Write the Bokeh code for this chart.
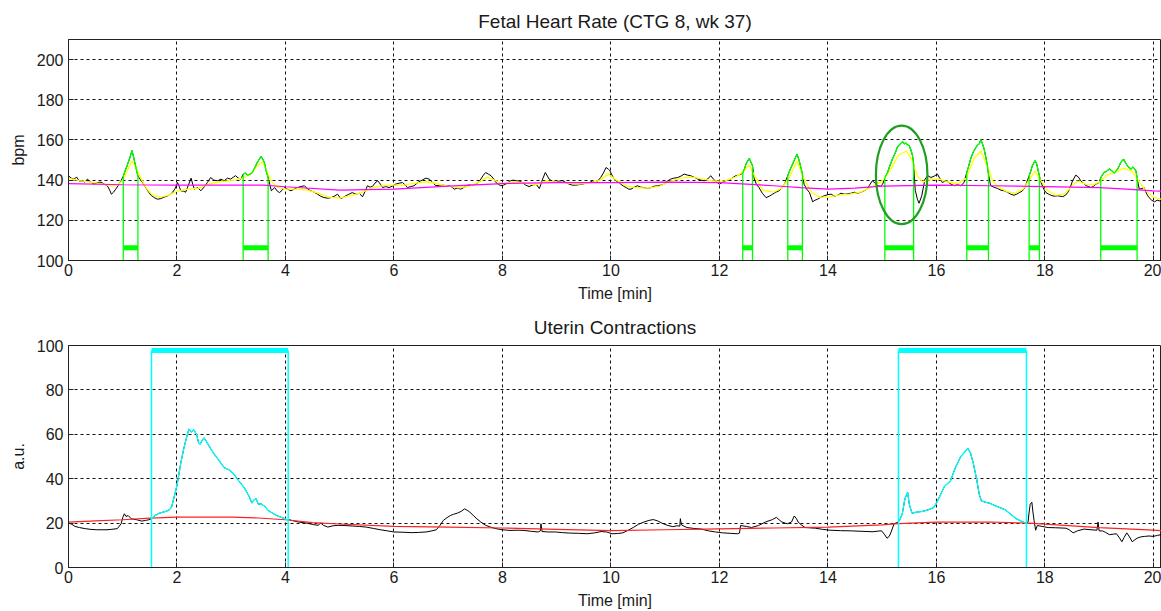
import numpy as np
from bokeh.plotting import figure
from bokeh.layouts import column
from bokeh.models import FixedTicker, Range1d
from bokeh.embed import file_html
from bokeh.resources import INLINE

# ---------------- data: fetal heart rate ----------------
fhr_time = [0.00, 0.05, 0.10, 0.15, 0.20, 0.25, 0.30, 0.35, 0.40, 0.47, 0.53, 0.60, 0.66, 0.72, 0.76, 0.79, 0.83, 0.87, 0.92, 0.97,
            1.01, 1.05, 1.09, 1.13, 1.17, 1.20, 1.22, 1.25, 1.28, 1.30, 1.33, 1.36, 1.41, 1.46, 1.52, 1.58, 1.64, 1.70, 1.76, 1.83,
            1.88, 1.92, 1.97, 2.01, 2.04, 2.07, 2.12, 2.16, 2.21, 2.26, 2.29, 2.32, 2.38, 2.44, 2.50, 2.56, 2.62, 2.68, 2.75, 2.81,
            2.87, 2.93, 2.99, 3.04, 3.08, 3.13, 3.18, 3.22, 3.26, 3.30, 3.35, 3.39, 3.44, 3.48, 3.52, 3.55, 3.58, 3.61, 3.64, 3.68,
            3.71, 3.74, 3.77, 3.80, 3.85, 3.89, 3.94, 3.98, 4.04, 4.10, 4.16, 4.22, 4.28, 4.35, 4.41, 4.47, 4.53, 4.59, 4.65, 4.71,
            4.78, 4.84, 4.90, 4.96, 5.02, 5.07, 5.11, 5.17, 5.23, 5.30, 5.36, 5.42, 5.47, 5.51, 5.56, 5.60, 5.65, 5.70, 5.75, 5.79,
            5.85, 5.91, 5.97, 6.03, 6.10, 6.16, 6.21, 6.25, 6.31, 6.37, 6.45, 6.53, 6.59, 6.65, 6.71, 6.77, 6.84, 6.90, 6.96, 7.02,
            7.07, 7.11, 7.17, 7.23, 7.30, 7.36, 7.44, 7.51, 7.56, 7.60, 7.65, 7.69, 7.74, 7.79, 7.84, 7.88, 7.93, 7.97, 8.02, 8.06,
            8.11, 8.15, 8.20, 8.25, 8.31, 8.37, 8.43, 8.49, 8.55, 8.62, 8.68, 8.71, 8.74, 8.79, 8.83, 8.86, 8.92, 8.98, 9.04, 9.11,
            9.17, 9.23, 9.29, 9.35, 9.42, 9.48, 9.54, 9.60, 9.66, 9.72, 9.77, 9.81, 9.86, 9.91, 9.95, 9.98, 10.02, 10.06, 10.09, 10.14,
            10.18, 10.23, 10.28, 10.33, 10.37, 10.43, 10.49, 10.55, 10.61, 10.68, 10.74, 10.80, 10.86, 10.92, 10.98, 11.04, 11.10, 11.16, 11.23, 11.29,
            11.35, 11.41, 11.47, 11.53, 11.60, 11.66, 11.72, 11.78, 11.84, 11.89, 11.94, 12.00, 12.06, 12.12, 12.17, 12.21, 12.26, 12.30, 12.35, 12.40,
            12.43, 12.46, 12.49, 12.52, 12.55, 12.58, 12.61, 12.64, 12.68, 12.73, 12.79, 12.86, 12.92, 12.98, 13.04, 13.10, 13.15, 13.20, 13.26, 13.30,
            13.35, 13.39, 13.43, 13.47, 13.50, 13.53, 13.56, 13.61, 13.66, 13.72, 13.76, 13.81, 13.87, 13.93, 14.00, 14.06, 14.12, 14.18, 14.24, 14.30,
            14.37, 14.43, 14.49, 14.55, 14.61, 14.67, 14.72, 14.76, 14.82, 14.87, 14.92, 14.97, 15.01, 15.05, 15.10, 15.14, 15.19, 15.24, 15.28, 15.33,
            15.38, 15.41, 15.44, 15.47, 15.50, 15.53, 15.56, 15.58, 15.61, 15.65, 15.68, 15.73, 15.79, 15.84, 15.90, 15.96, 16.02, 16.06, 16.11, 16.16,
            16.21, 16.27, 16.33, 16.39, 16.45, 16.51, 16.56, 16.60, 16.64, 16.68, 16.73, 16.76, 16.79, 16.82, 16.85, 16.88, 16.91, 16.94, 16.96, 17.00,
            17.06, 17.13, 17.19, 17.25, 17.31, 17.37, 17.43, 17.48, 17.53, 17.58, 17.62, 17.66, 17.71, 17.74, 17.77, 17.82, 17.85, 17.87, 17.90, 17.93,
            17.98, 18.02, 18.07, 18.11, 18.17, 18.23, 18.28, 18.33, 18.38, 18.42, 18.47, 18.51, 18.57, 18.62, 18.66, 18.71, 18.76, 18.81, 18.85, 18.90,
            18.94, 19.00, 19.03, 19.06, 19.09, 19.14, 19.19, 19.24, 19.28, 19.31, 19.34, 19.37, 19.40, 19.45, 19.48, 19.52, 19.56, 19.59, 19.62, 19.65,
            19.68, 19.70, 19.74, 19.79, 19.83, 19.88, 19.92, 19.97, 20.02, 20.07, 20.11, 20.15]
fhr_bpm = [142.2, 141.0, 140.5, 141.5, 139.5, 139.7, 139.0, 140.5, 139.2, 138.0, 138.8, 139.0, 138.0, 137.0, 135.0, 133.0, 134.0, 135.5, 137.5, 139.7,
           142.0, 145.0, 148.0, 151.0, 154.7, 151.5, 149.0, 145.5, 142.0, 141.3, 140.0, 139.0, 137.0, 134.7, 132.5, 131.3, 130.5, 130.8, 131.5, 132.2,
           133.0, 134.0, 136.0, 138.8, 137.0, 134.7, 134.5, 134.0, 137.5, 141.0, 138.0, 135.5, 136.3, 134.7, 136.5, 138.8, 141.3, 140.0, 139.7, 140.5,
           139.7, 141.0, 140.5, 141.5, 142.2, 141.0, 140.5, 143.0, 143.5, 142.5, 143.0, 143.8, 146.5, 148.8, 150.5, 151.8, 150.5, 148.8, 145.0, 141.3,
           138.0, 134.7, 135.5, 136.3, 134.5, 133.8, 135.0, 136.3, 135.5, 134.7, 135.5, 136.3, 136.8, 137.2, 135.5, 134.7, 134.0, 133.0, 132.0, 131.3,
           131.0, 131.3, 132.0, 133.0, 130.8, 131.5, 132.2, 133.0, 133.8, 133.0, 133.5, 131.7, 134.5, 137.2, 136.5, 136.8, 138.5, 139.7, 138.0, 136.3,
           136.8, 136.3, 137.0, 138.0, 138.5, 138.8, 137.5, 136.3, 136.8, 137.2, 139.0, 140.2, 141.0, 140.5, 139.0, 137.2, 137.5, 137.7, 137.0, 137.2,
           136.5, 135.5, 136.0, 135.5, 136.5, 137.5, 137.5, 138.0, 139.0, 140.5, 142.5, 143.8, 143.0, 142.2, 140.5, 138.8, 137.8, 137.2, 137.5, 138.0,
           139.0, 139.7, 140.0, 139.7, 139.5, 138.8, 137.5, 136.8, 137.5, 138.0, 135.8, 138.0, 140.5, 143.8, 142.0, 140.5, 139.5, 138.8, 139.5, 139.7,
           138.8, 138.0, 137.5, 137.5, 137.8, 138.0, 138.5, 138.8, 139.5, 138.8, 140.0, 141.3, 143.5, 146.3, 145.5, 144.7, 142.5, 140.5, 139.7, 139.0,
           138.0, 137.0, 136.3, 135.5, 135.5, 136.5, 137.2, 136.5, 136.3, 135.8, 136.3, 137.0, 137.2, 137.5, 138.0, 139.5, 140.5, 141.0, 141.3, 142.0,
           143.0, 142.5, 142.2, 141.5, 140.5, 140.0, 139.7, 140.5, 142.2, 140.5, 139.2, 138.0, 139.0, 139.7, 140.0, 140.5, 141.5, 142.2, 142.5, 143.0,
           143.5, 145.5, 148.0, 149.5, 150.8, 149.0, 147.2, 141.0, 138.0, 136.3, 133.5, 131.3, 132.0, 133.0, 134.0, 134.7, 136.0, 138.0, 142.2, 145.0,
           148.0, 150.5, 153.0, 149.7, 146.5, 143.0, 138.0, 135.5, 133.8, 129.2, 130.0, 130.5, 131.5, 132.2, 132.8, 133.0, 132.0, 132.5, 133.5, 133.0,
           133.2, 133.5, 134.0, 133.5, 134.0, 134.7, 135.5, 137.2, 139.7, 138.5, 137.2, 137.0, 138.0, 141.3, 143.8, 147.0, 150.5, 153.5, 156.3, 158.0,
           159.2, 158.0, 158.5, 157.5, 157.2, 155.0, 152.2, 148.0, 135.0, 130.5, 128.5, 132.2, 140.5, 142.2, 141.3, 142.0, 143.0, 141.0, 138.8, 139.5,
           139.2, 138.0, 137.2, 137.8, 137.2, 138.8, 143.8, 147.5, 151.3, 154.0, 156.3, 157.5, 158.0, 160.2, 158.0, 155.5, 151.5, 147.2, 143.0, 137.2,
           136.5, 135.8, 135.0, 134.7, 134.0, 133.0, 132.5, 133.0, 133.8, 134.5, 135.8, 138.5, 142.2, 144.5, 147.2, 149.7, 148.0, 145.5, 142.0, 138.8,
           135.5, 133.8, 133.0, 132.5, 132.0, 132.2, 132.0, 131.8, 132.5, 133.8, 136.5, 139.7, 142.5, 141.5, 139.7, 138.5, 137.2, 136.8, 136.3, 137.0,
           138.0, 138.8, 141.3, 142.5, 143.8, 144.5, 145.5, 144.5, 143.5, 144.5, 145.5, 147.0, 148.8, 150.5, 149.0, 147.2, 146.0, 145.5, 146.5, 145.8,
           144.5, 141.0, 135.5, 135.8, 136.3, 133.0, 131.3, 130.0, 129.2, 130.0, 129.7, 130.0]

smooth_time = [0.0, 0.2, 0.4, 0.6, 0.8, 0.9, 1.0, 1.1, 1.17, 1.25, 1.35, 1.45, 1.55, 1.7, 1.85, 2.0, 2.2, 2.4, 2.6, 2.8,
               3.0, 3.2, 3.35, 3.5, 3.58, 3.66, 3.75, 3.85, 4.0, 4.2, 4.4, 4.6, 4.8, 5.0, 5.2, 5.4, 5.6, 5.8, 6.0, 6.2,
               6.4, 6.6, 6.8, 7.0, 7.2, 7.4, 7.6, 7.72, 7.85, 8.0, 8.2, 8.4, 8.6, 8.8, 9.0, 9.2, 9.4, 9.6, 9.8, 9.95,
               10.1, 10.3, 10.5, 10.7, 10.9, 11.1, 11.3, 11.5, 11.7, 11.9, 12.1, 12.3, 12.45, 12.55, 12.65, 12.8, 13.0, 13.15, 13.3, 13.43,
               13.55, 13.7, 13.85, 14.0, 14.2, 14.4, 14.6, 14.8, 15.0, 15.15, 15.3, 15.45, 15.55, 15.65, 15.75, 15.9, 16.05, 16.2, 16.4, 16.55,
               16.7, 16.82, 16.95, 17.05, 17.15, 17.3, 17.45, 17.6, 17.72, 17.82, 17.92, 18.05, 18.2, 18.35, 18.5, 18.6, 18.75, 18.9, 19.0, 19.15,
               19.3, 19.45, 19.6, 19.72, 19.85, 20.0, 20.15]
smooth_bpm = [141.0, 139.8, 139.0, 138.2, 137.0, 137.5, 140.0, 145.5, 149.5, 146.0, 140.0, 135.5, 132.5, 131.5, 132.5, 134.5, 135.5, 136.0, 138.2, 139.2,
              139.8, 141.0, 143.0, 147.5, 149.0, 144.0, 139.0, 136.5, 135.5, 135.5, 135.0, 133.5, 131.5, 131.0, 132.3, 133.8, 136.3, 137.3, 137.5, 137.6,
              138.5, 139.2, 138.2, 137.0, 136.2, 137.0, 139.5, 141.5, 140.0, 138.3, 139.2, 138.6, 137.6, 139.5, 139.0, 138.5, 138.0, 138.5, 140.0, 143.0,
              140.0, 137.0, 136.2, 136.0, 137.0, 139.5, 141.0, 141.5, 140.5, 139.5, 139.6, 141.5, 144.5, 147.5, 142.0, 135.0, 134.0, 136.0, 142.0, 149.5,
              141.0, 134.0, 131.5, 131.5, 132.5, 133.0, 134.0, 136.5, 139.5, 145.0, 152.5, 154.5, 150.0, 142.0, 139.0, 140.5, 140.5, 139.2, 138.2, 141.0,
              151.0, 154.5, 146.0, 139.0, 136.5, 134.3, 133.5, 135.5, 140.5, 144.5, 140.0, 135.0, 132.5, 133.0, 137.0, 139.5, 138.0, 137.8, 139.0, 142.5,
              144.0, 146.0, 144.5, 140.0, 135.0, 131.5, 130.5]

baseline_time = [0, 1, 2, 3, 3.6, 4, 5, 6, 7, 8, 9, 10, 11, 12, 12.5, 13, 13.5, 14, 14.5, 15, 16, 17, 18, 19, 19.5, 20, 20.15]
baseline_bpm = [138.3, 137.7, 137.5, 137.5, 137.5, 136.7, 135.0, 135.5, 137.0, 138.3, 138.8, 138.8, 139.0, 138.8, 138.0, 137.2, 136.3, 135.5, 136.0, 137.0,
                137.5, 137.2, 136.8, 136.3, 135.5, 134.7, 134.5]

accel_start = [1.01, 3.22, 12.43, 13.26, 15.05, 16.56, 17.71, 19.03]
accel_end = [1.28, 3.68, 12.61, 13.53, 15.58, 16.96, 17.90, 19.70]
ACCEL_MARK = 106.3          # level of the acceleration bars
ELLIPSE_X, ELLIPSE_Y, ELLIPSE_W, ELLIPSE_H = 15.36, 142.6, 0.95, 49.0

# ---------------- data: uterine contractions ----------------
uc_time = [0.00, 0.06, 0.12, 0.20, 0.31, 0.40, 0.51, 0.60, 0.71, 0.80, 0.90, 0.97, 1.00, 1.03, 1.06, 1.10, 1.16, 1.26, 1.35, 1.42,
           1.48, 1.53, 1.60, 1.68, 1.75, 1.81, 1.86, 1.90, 1.94, 2.00, 2.07, 2.12, 2.17, 2.22, 2.26, 2.31, 2.36, 2.40, 2.43, 2.47,
           2.50, 2.55, 2.62, 2.69, 2.78, 2.87, 2.96, 3.05, 3.14, 3.24, 3.33, 3.38, 3.42, 3.46, 3.50, 3.55, 3.62, 3.68, 3.76, 3.84,
           3.92, 4.00, 4.05, 4.07, 4.15, 4.26, 4.39, 4.52, 4.60, 4.65, 4.70, 4.78, 4.88, 4.97, 5.10, 5.23, 5.36, 5.49, 5.62, 5.75,
           5.88, 6.00, 6.15, 6.33, 6.45, 6.59, 6.70, 6.78, 6.85, 6.91, 6.98, 7.04, 7.10, 7.17, 7.24, 7.30, 7.35, 7.40, 7.46, 7.53,
           7.60, 7.69, 7.78, 7.88, 8.00, 8.14, 8.27, 8.40, 8.53, 8.66, 8.70, 8.71, 8.73, 8.85, 8.98, 9.11, 9.24, 9.40, 9.56, 9.70,
           9.82, 9.92, 10.02, 10.12, 10.22, 10.32, 10.41, 10.51, 10.61, 10.70, 10.78, 10.86, 10.94, 11.04, 11.14, 11.22, 11.27, 11.28, 11.30, 11.40,
           11.53, 11.67, 11.80, 11.93, 12.06, 12.20, 12.33, 12.37, 12.39, 12.50, 12.59, 12.72, 12.85, 12.98, 13.05, 13.10, 13.15, 13.25, 13.33, 13.38,
           13.42, 13.45, 13.52, 13.58, 13.77, 13.90, 14.04, 14.23, 14.43, 14.63, 14.83, 14.93, 14.99, 15.04, 15.09, 15.13, 15.16, 15.22, 15.30, 15.32,
           15.37, 15.42, 15.47, 15.50, 15.55, 15.65, 15.75, 15.85, 15.95, 16.01, 16.08, 16.15, 16.26, 16.35, 16.45, 16.54, 16.58, 16.63, 16.68, 16.74,
           16.79, 16.83, 16.90, 16.98, 17.07, 17.17, 17.27, 17.37, 17.47, 17.55, 17.60, 17.66, 17.69, 17.71, 17.73, 17.76, 17.78, 17.80, 17.83, 17.86,
           17.95, 18.06, 18.20, 18.39, 18.45, 18.52, 18.60, 18.72, 18.85, 18.96, 18.98, 19.00, 19.06, 19.12, 19.19, 19.26, 19.32, 19.37, 19.42, 19.46,
           19.51, 19.56, 19.61, 19.66, 19.70, 19.77, 19.84, 19.92, 20.00, 20.08, 20.15]
uc_value = [20.0, 19.5, 18.5, 18.0, 17.5, 17.2, 17.0, 17.0, 17.0, 17.2, 17.5, 19.7, 22.5, 24.2, 23.0, 23.4, 21.9, 21.5, 20.9, 21.2,
            21.5, 22.0, 23.5, 24.5, 25.0, 25.4, 26.0, 27.2, 31.0, 37.0, 47.0, 53.0, 58.0, 62.4, 61.0, 62.0, 60.0, 56.0, 55.6, 57.5,
            58.4, 56.5, 53.5, 51.0, 48.0, 45.0, 44.0, 42.0, 39.0, 36.0, 32.0, 29.0, 30.5, 31.0, 28.5, 28.7, 27.5, 25.7, 24.5, 23.4,
            22.6, 21.9, 21.2, 21.5, 21.0, 20.4, 20.0, 19.3, 19.0, 20.0, 19.0, 18.2, 18.8, 19.0, 18.9, 18.7, 18.5, 18.2, 17.6, 17.0,
            16.5, 16.0, 15.9, 15.7, 15.8, 16.0, 16.5, 17.0, 19.0, 21.2, 22.5, 23.4, 24.0, 24.5, 25.3, 26.4, 25.8, 24.9, 23.5, 21.9,
            20.5, 19.0, 18.2, 17.5, 17.0, 16.7, 16.8, 16.7, 16.3, 16.0, 16.5, 19.7, 16.2, 16.0, 16.0, 15.7, 15.5, 15.4, 15.2, 15.6,
            16.2, 16.0, 15.2, 15.3, 15.6, 16.8, 18.0, 19.5, 20.5, 21.2, 21.6, 21.0, 20.0, 19.0, 18.4, 18.8, 18.6, 22.0, 19.2, 18.0,
            17.6, 17.3, 16.5, 16.0, 15.6, 15.4, 15.2, 15.5, 18.9, 18.5, 18.0, 18.9, 20.5, 21.6, 22.6, 21.5, 20.5, 19.7, 20.5, 23.2,
            22.0, 20.5, 19.0, 18.0, 17.7, 17.2, 16.8, 16.6, 16.5, 16.3, 16.1, 16.4, 16.5, 15.0, 13.2, 14.0, 15.6, 19.7, 20.5, 21.3,
            24.0, 31.0, 33.9, 28.5, 24.5, 25.0, 25.3, 26.0, 27.0, 29.4, 33.0, 36.6, 39.0, 45.0, 50.0, 52.5, 53.7, 51.5, 47.0, 40.0,
            33.0, 30.0, 29.4, 29.0, 28.0, 27.0, 26.0, 24.0, 22.0, 21.0, 20.5, 19.7, 20.5, 25.0, 28.5, 29.4, 25.0, 21.3, 16.8, 18.9,
            18.5, 18.0, 17.9, 17.7, 17.0, 15.6, 16.5, 17.3, 17.0, 16.8, 20.5, 16.5, 16.5, 15.8, 14.8, 15.0, 15.2, 13.5, 11.6, 13.5,
            15.6, 13.8, 11.6, 12.5, 13.2, 13.8, 14.0, 14.2, 14.0, 14.5, 14.8]

uc_base_time = [0, 0.5, 1.0, 1.5, 2.0, 3.0, 3.5, 4.0, 4.5, 5.0, 6.0, 7.0, 8.0, 9.0, 10.0, 11.0, 12.0, 13.0, 14.0, 15.0,
                15.3, 16.0, 17.0, 17.7, 18.0, 19.0, 20.0, 20.15]
uc_base_value = [20.4, 21.0, 21.5, 22.2, 22.7, 22.7, 22.3, 21.5, 20.2, 19.6, 18.5, 18.2, 17.8, 17.2, 16.6, 17.0, 17.4, 17.8, 18.2, 19.2,
                 19.8, 20.4, 20.5, 20.0, 19.5, 18.0, 16.8, 16.6]

contr_start = [1.53, 15.30]
contr_end = [4.05, 17.66]
CONTR_MARK = 97.7           # level of the contraction bars

x_ticks = [0, 2, 4, 6, 8, 10, 12, 14, 16, 18, 20]
fhr_ticks = [100, 120, 140, 160, 180, 200]
uc_ticks = [0, 20, 40, 60, 80, 100]

# ---------------- plotting ----------------
FONT = "Liberation Sans"
TXT = "#1a1a1a"
W = 1161
X_END = 20.15


def style(p, yticks, ylabel):
    p.title.text_font = FONT
    p.title.text_font_size = "19px"
    p.title.text_font_style = "normal"
    p.title.text_color = TXT
    p.title.align = "center"
    p.title.standoff = 16
    p.outline_line_color = "#222222"
    p.outline_line_width = 1
    p.xaxis.ticker = FixedTicker(ticks=x_ticks)
    p.yaxis.ticker = FixedTicker(ticks=yticks)
    p.xgrid.ticker = FixedTicker(ticks=x_ticks)
    p.ygrid.ticker = FixedTicker(ticks=yticks)
    for g in (p.xgrid, p.ygrid):
        g.grid_line_color = "#111111"
        g.grid_line_dash = "3 3"
        g.grid_line_width = 1
    for ax in p.axis:
        ax.major_label_text_font = FONT
        ax.major_label_text_font_size = "16px"
        ax.major_label_text_color = TXT
        ax.axis_label_text_font = FONT
        ax.axis_label_text_font_size = "16px"
        ax.axis_label_text_font_style = "normal"
        ax.axis_label_text_color = TXT
        ax.major_tick_in = 5
        ax.major_tick_out = 0
        ax.minor_tick_in = 0
        ax.minor_tick_out = 0
        ax.axis_line_color = "#222222"
        ax.major_tick_line_color = "#222222"
    p.xaxis.axis_label = "Time [min]"
    p.xaxis.major_label_standoff = 3
    p.xaxis.axis_label_standoff = 6
    p.yaxis.axis_label = ylabel
    p.yaxis.major_label_standoff = 5
    p.yaxis.axis_label_standoff = 7


# ---- top panel: FHR ----
p1 = figure(width=W, height=305, output_backend="svg", toolbar_location=None,
            x_range=Range1d(0, X_END), y_range=Range1d(100, 210),
            title="Fetal Heart Rate (CTG 8, wk 37)",
            min_border_left=68, min_border_right=0, min_border_top=38, min_border_bottom=45)
style(p1, fhr_ticks, "bpm")

ft = np.array(fhr_time)
fv = np.array(fhr_bpm)
p1.line(ft, fv, line_color="black", line_width=1)
p1.line(smooth_time, smooth_bpm, line_color="#ffff00", line_width=1.3)

gx0, gy0, gx1, gy1 = [], [], [], []
for s, e in zip(accel_start, accel_end):
    m = (ft >= s - 1e-9) & (ft <= e + 1e-9)
    p1.line(ft[m], fv[m], line_color="#00ff00", line_width=1.3)
    vs = float(np.interp(s, ft, fv))
    ve = float(np.interp(e, ft, fv))
    gx0 += [s, e]
    gx1 += [s, e]
    gy0 += [100, 100]
    gy1 += [vs, ve]
p1.segment(x0=gx0, y0=gy0, x1=gx1, y1=gy1, line_color="#00ff00", line_width=1.3)
p1.segment(x0=accel_start, y0=[ACCEL_MARK] * len(accel_start), x1=accel_end,
           y1=[ACCEL_MARK] * len(accel_end), line_color="#00ff00", line_width=5)
p1.line(baseline_time, baseline_bpm, line_color="#ff00ff", line_width=1.2)
p1.ellipse(x=[ELLIPSE_X], y=[ELLIPSE_Y], width=[ELLIPSE_W], height=[ELLIPSE_H],
           fill_alpha=0, line_color="#1f9f1f", line_width=2.2)

# ---- bottom panel: UC ----
p2 = figure(width=W, height=306, output_backend="svg", toolbar_location=None,
            x_range=Range1d(0, X_END), y_range=Range1d(0, 100),
            title="Uterin Contractions",
            min_border_left=68, min_border_right=0, min_border_top=40, min_border_bottom=44)
style(p2, uc_ticks, "a.u.")

ut = np.array(uc_time)
uv = np.array(uc_value)
p2.line(ut, uv, line_color="black", line_width=1)
p2.line(uc_base_time, uc_base_value, line_color="#ff2020", line_width=1.2)
for s, e in zip(contr_start, contr_end):
    m = (ut >= s - 1e-9) & (ut <= e + 1e-9)
    p2.line(ut[m], uv[m], line_color="#00ffff", line_width=1.3)
cx = contr_start + contr_end
p2.segment(x0=cx, y0=[0] * len(cx), x1=cx, y1=[CONTR_MARK] * len(cx),
           line_color="#00ffff", line_width=1.5)
p2.segment(x0=contr_start, y0=[CONTR_MARK] * len(contr_start), x1=contr_end,
           y1=[CONTR_MARK] * len(contr_end), line_color="#00ffff", line_width=5)

layout = column(p1, p2, spacing=0)
open("out.html", "w").write(file_html(layout, INLINE))
